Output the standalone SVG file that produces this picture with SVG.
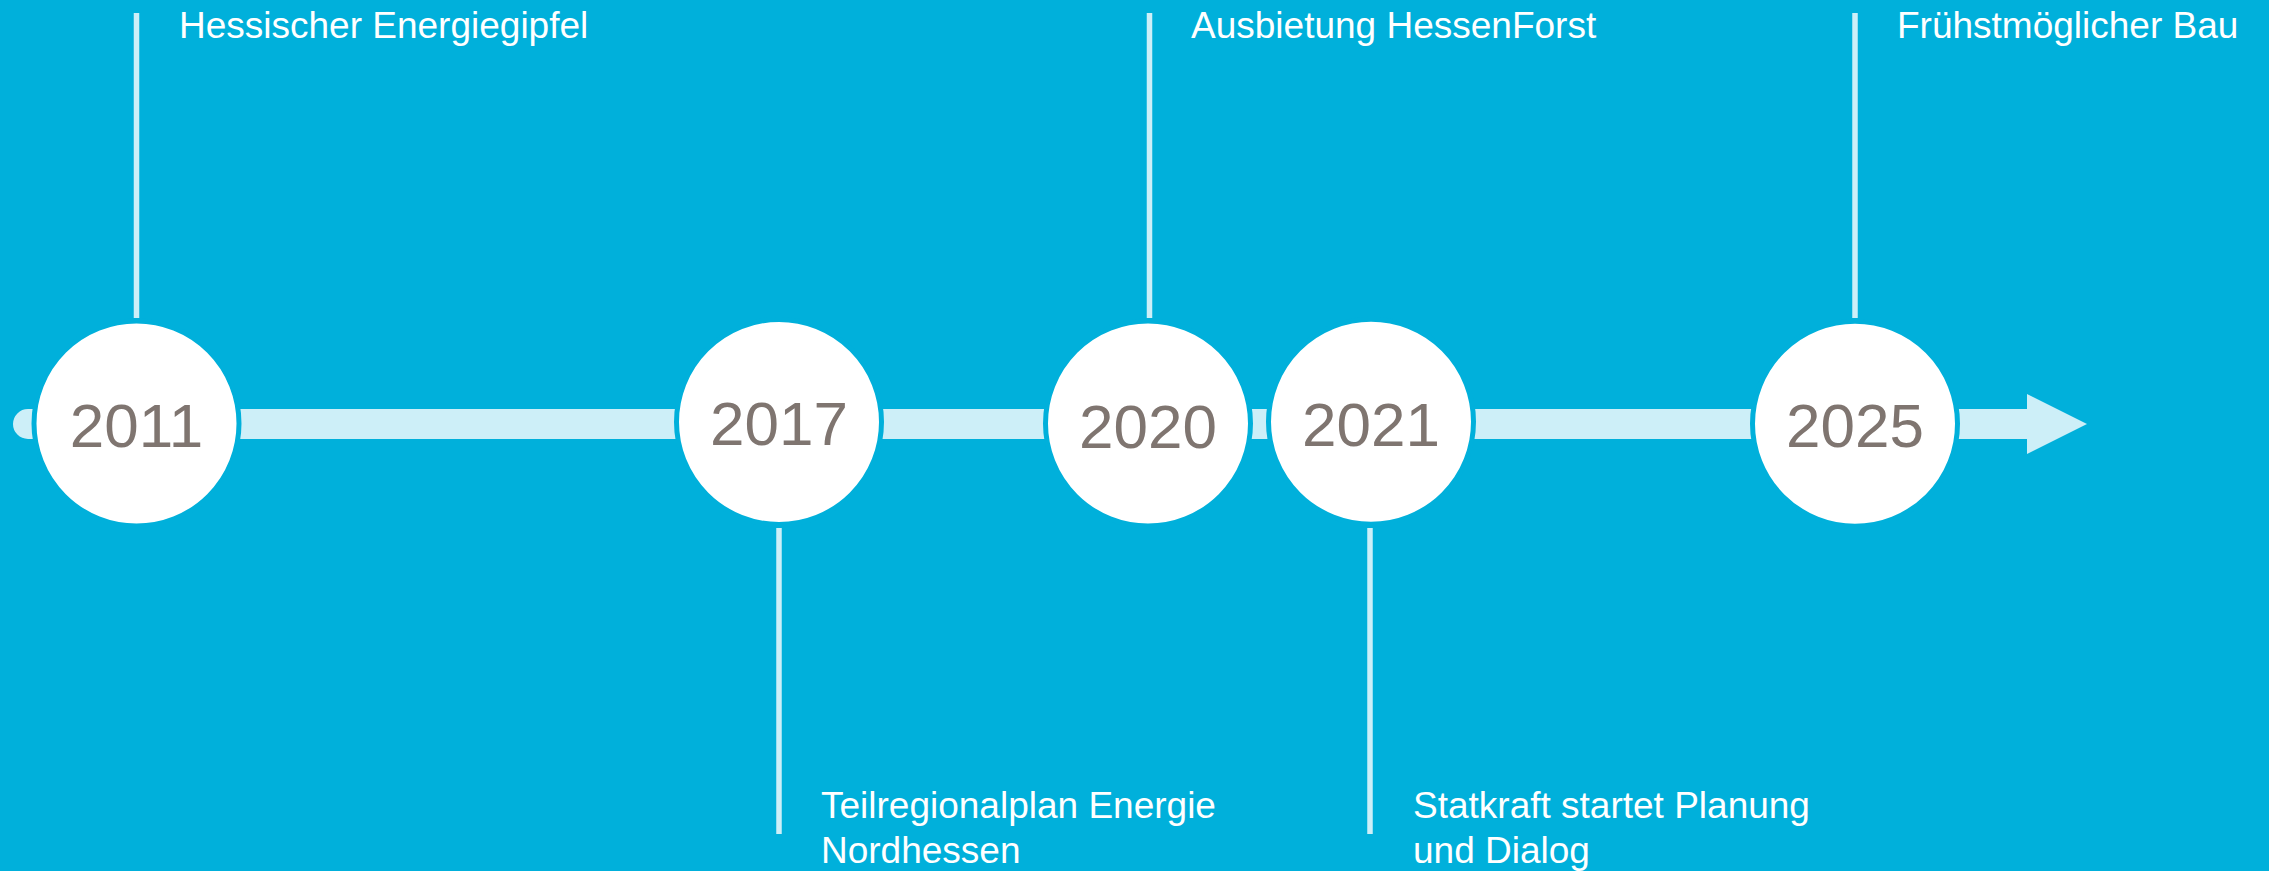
<svg xmlns="http://www.w3.org/2000/svg" width="2269" height="871" viewBox="0 0 2269 871">
  <style>
    .bg { fill: #00B0DB; }
    .bar { fill: #CDEFF8; }
    .tick { stroke: #CDEFF8; stroke-width: 5.5; fill: none; }
    .disc { fill: #FFFFFF; stroke: #00B0DB; stroke-width: 5; }
    .year { font-family: "Liberation Sans", Arial, sans-serif; font-size: 62px; fill: #7F7570; text-anchor: middle; }
    .label { font-family: "Liberation Sans", Arial, sans-serif; font-size: 37px; fill: #FFFFFF; }
  </style>
  <rect class="bg" x="0" y="0" width="2269" height="871"/>

  <g id="connectors">
    <path class="bar" d="M28,409 H2027 V394 L2087,424 L2027,454 V439 H28 A15,15 0 0 1 28,409 Z"/>
    <line class="tick" x1="136.5" y1="13" x2="136.5" y2="318"/>
    <line class="tick" x1="779" y1="528" x2="779" y2="834"/>
    <line class="tick" x1="1149.5" y1="13" x2="1149.5" y2="318"/>
    <line class="tick" x1="1370" y1="528" x2="1370" y2="834"/>
    <line class="tick" x1="1855" y1="13" x2="1855" y2="318"/>
  </g>

  <g id="node-2011">
    <circle class="disc" cx="136.5" cy="423.5" r="102.5"/>
    <text class="year" x="136.5" y="446.5">2011</text>
    <text class="label" x="179" y="38">Hessischer Energiegipfel</text>
  </g>

  <g id="node-2017">
    <circle class="disc" cx="779" cy="422" r="102.5"/>
    <text class="year" x="779" y="445">2017</text>
    <text class="label" x="821" y="818">Teilregionalplan Energie</text>
    <text class="label" x="821" y="863">Nordhessen</text>
  </g>

  <g id="node-2020">
    <circle class="disc" cx="1148" cy="423.5" r="102.5"/>
    <text class="year" x="1148" y="447.5">2020</text>
    <text class="label" x="1191" y="38">Ausbietung HessenForst</text>
  </g>

  <g id="node-2021">
    <circle class="disc" cx="1371" cy="421.7" r="102.5"/>
    <text class="year" x="1371" y="445.5">2021</text>
    <text class="label" x="1413" y="818">Statkraft startet Planung</text>
    <text class="label" x="1413" y="863">und Dialog</text>
  </g>

  <g id="node-2025">
    <circle class="disc" cx="1855" cy="423.7" r="102.5"/>
    <text class="year" x="1855" y="447">2025</text>
    <text class="label" x="1897" y="38">Frühstmöglicher Bau</text>
  </g>
</svg>
